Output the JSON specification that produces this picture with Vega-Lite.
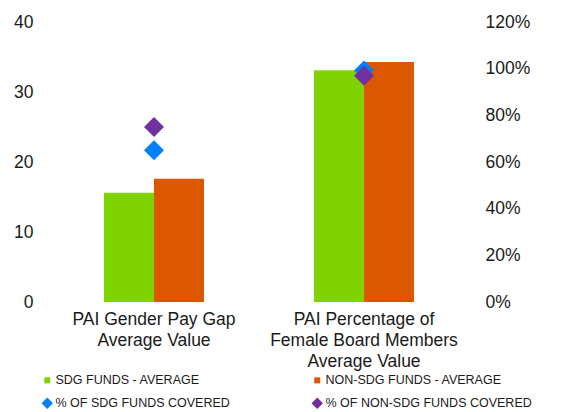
{
  "$schema": "https://vega.github.io/schema/vega-lite/v6.json",
  "autosize": {"type": "none"},
  "width": 420,
  "height": 280,
  "padding": {"left": 49, "top": 22, "right": 98, "bottom": 110},
  "background": "white",
  "config": {
    "view": {"stroke": null},
    "font": "Liberation Sans",
    "axis": {"labelFont": "Liberation Sans", "labelColor": "#1a1a1a", "labelFontSize": 17.5, "labelLimit": 0, "ticks": false, "domain": false, "grid": false, "title": null},
    "legend": {"labelFont": "Liberation Sans", "labelColor": "#1a1a1a", "labelFontSize": 12.5, "labelLimit": 400}
  },
  "datasets": {
    "bars": [
      {"category": "PAI Gender Pay Gap|Average Value", "series": "SDG FUNDS - AVERAGE", "value": 15.6},
      {"category": "PAI Gender Pay Gap|Average Value", "series": "NON-SDG FUNDS - AVERAGE", "value": 17.6},
      {"category": "PAI Percentage of|Female Board Members|Average Value", "series": "SDG FUNDS - AVERAGE", "value": 33.1},
      {"category": "PAI Percentage of|Female Board Members|Average Value", "series": "NON-SDG FUNDS - AVERAGE", "value": 34.3}
    ],
    "points": [
      {"category": "PAI Gender Pay Gap|Average Value", "series": "% OF SDG FUNDS COVERED", "pct": 0.65},
      {"category": "PAI Gender Pay Gap|Average Value", "series": "% OF NON-SDG FUNDS COVERED", "pct": 0.75},
      {"category": "PAI Percentage of|Female Board Members|Average Value", "series": "% OF SDG FUNDS COVERED", "pct": 0.992},
      {"category": "PAI Percentage of|Female Board Members|Average Value", "series": "% OF NON-SDG FUNDS COVERED", "pct": 0.97}
    ]
  },
  "layer": [
    {
      "data": {"name": "bars"},
      "mark": {"type": "bar"},
      "encoding": {
        "x": {
          "field": "category",
          "type": "nominal",
          "sort": null,
          "scale": {"paddingInner": 0.524, "paddingOuter": 0.262},
          "axis": {"labelAngle": 0, "labelExpr": "split(datum.label, '|')", "labelFontSize": 17.5, "labelLineHeight": 21, "labelPadding": 8, "labelBaseline": "top"}
        },
        "xOffset": {"field": "series", "type": "nominal", "sort": ["SDG FUNDS - AVERAGE", "NON-SDG FUNDS - AVERAGE"]},
        "y": {
          "field": "value",
          "type": "quantitative",
          "scale": {"domain": [0, 40], "nice": false},
          "axis": {"orient": "left", "values": [0, 10, 20, 30, 40], "labelPadding": 16}
        },
        "color": {
          "field": "series",
          "type": "nominal",
          "scale": {
            "domain": ["SDG FUNDS - AVERAGE", "NON-SDG FUNDS - AVERAGE", "% OF SDG FUNDS COVERED", "% OF NON-SDG FUNDS COVERED"],
            "range": ["#7ED300", "#DB5800", "#0080FF", "#7030A0"]
          },
          "legend": {
            "title": null,
            "orient": "none",
            "direction": "horizontal",
            "legendX": -8,
            "legendY": 352,
            "columns": 2,
            "columnPadding": 81,
            "rowPadding": 10,
            "labelOffset": 2,
            "symbolSize": 75,
            "symbolOpacity": 1,
            "symbolStrokeWidth": 0,
            "encode": {
              "symbols": {
                "update": {
                  "size": {"signal": "datum.value == 'SDG FUNDS - AVERAGE' || datum.value == 'NON-SDG FUNDS - AVERAGE' ? 36 : 130"}
                }
              }
            }
          }
        }
      }
    },
    {
      "data": {"name": "points"},
      "mark": {"type": "point", "filled": true, "size": 400, "opacity": 1},
      "encoding": {
        "x": {"field": "category", "type": "nominal", "sort": null},
        "y": {
          "field": "pct",
          "type": "quantitative",
          "scale": {"domain": [0, 1.2], "nice": false},
          "axis": {"orient": "right", "values": [0, 0.2, 0.4, 0.6, 0.8, 1.0, 1.2], "format": ".0%", "labelPadding": 16}
        },
        "color": {"field": "series", "type": "nominal"},
        "shape": {
          "field": "series",
          "type": "nominal",
          "scale": {
            "domain": ["SDG FUNDS - AVERAGE", "NON-SDG FUNDS - AVERAGE", "% OF SDG FUNDS COVERED", "% OF NON-SDG FUNDS COVERED"],
            "range": ["square", "square", "diamond", "diamond"]
          },
          "legend": {
            "title": null,
            "orient": "none",
            "direction": "horizontal",
            "legendX": -8,
            "legendY": 352,
            "columns": 2,
            "columnPadding": 81,
            "rowPadding": 10,
            "labelOffset": 2,
            "symbolSize": 75,
            "symbolOpacity": 1,
            "symbolStrokeWidth": 0,
            "encode": {
              "symbols": {
                "update": {
                  "size": {"signal": "datum.value == 'SDG FUNDS - AVERAGE' || datum.value == 'NON-SDG FUNDS - AVERAGE' ? 36 : 130"}
                }
              }
            }
          }
        }
      }
    }
  ],
  "resolve": {"scale": {"y": "independent"}}
}
